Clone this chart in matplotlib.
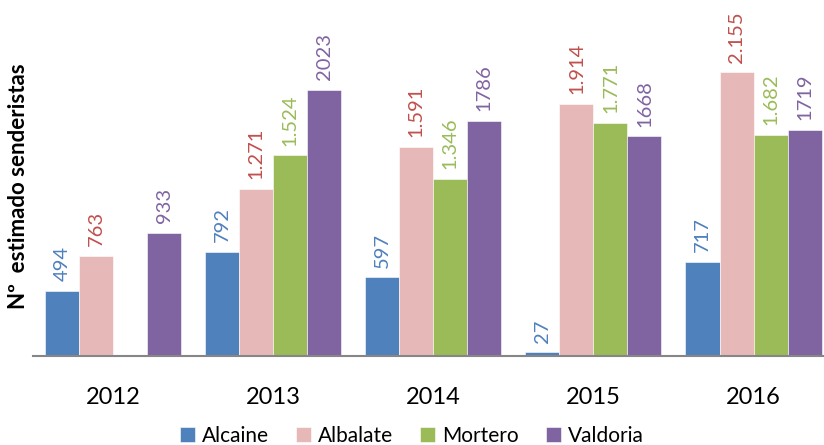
import numpy as np
import matplotlib.pyplot as plt

plt.rcParams['font.family'] = ['Lato', 'DejaVu Sans']

years = ['2012', '2013', '2014', '2015', '2016']
series = ['Alcaine', 'Albalate', 'Mortero', 'Valdoria']
alcaine = [494, 792, 597, 27, 717]
albalate = [763, 1271, 1591, 1914, 2155]
mortero = [np.nan, 1524, 1346, 1771, 1682]
valdoria = [933, 2023, 1786, 1668, 1719]

colors = ['#4F81BD', '#E6B9B8', '#9BBB59', '#8064A2']
label_colors = ['#4F81BD', '#C0504D', '#9BBB59', '#8064A2']
dotted = [False, True, True, False]  # which series print 1.234 style


def fmt(v, dot):
    s = f'{int(v):,}' if dot else f'{int(v)}'
    return s.replace(',', '.')


fig = plt.figure(figsize=(8.24, 4.45), dpi=100)
ax = fig.add_axes([33 / 824, 89 / 445, 791 / 824, 329 / 445])

x = np.arange(len(years))
w = 0.2125
for i, (name, vals) in enumerate(zip(series, [alcaine, albalate, mortero, valdoria])):
    pos = x + (i - 1.5) * w
    ax.bar(pos, vals, w, color=colors[i], label=name, edgecolor='white', linewidth=0.4)
    for p, v in zip(pos, vals):
        if np.isnan(v):
            continue
        ax.annotate(fmt(v, dotted[i]), (p, v), xytext=(0, 7), textcoords='offset points',
                    rotation=90, ha='center', va='bottom', fontsize=14.5, color=label_colors[i])

ax.set_xlim(-0.5, 4.44)
ax.set_ylim(0, 2500)
ax.set_xticks(x)
ax.set_xticklabels(years, fontsize=17)
ax.tick_params(axis='x', length=0, pad=22)
ax.set_yticks([])
for s in ['top', 'right', 'left']:
    ax.spines[s].set_visible(False)
ax.spines['bottom'].set_color('#868686')
ax.spines['bottom'].set_linewidth(1.5)

fig.text(19 / 824, 1 - 186 / 445, 'Nº  estimado senderistas', rotation=90, ha='center', va='center',
         fontsize=16, fontweight='bold', transform=fig.transFigure)

fig.legend(loc='center', bbox_to_anchor=(412 / 824, 1 - 436 / 445), ncol=4, frameon=False,
           fontsize=15, handlelength=0.7, handleheight=0.7, handletextpad=0.35, columnspacing=1.3)

fig.savefig('out.png', dpi=100)
